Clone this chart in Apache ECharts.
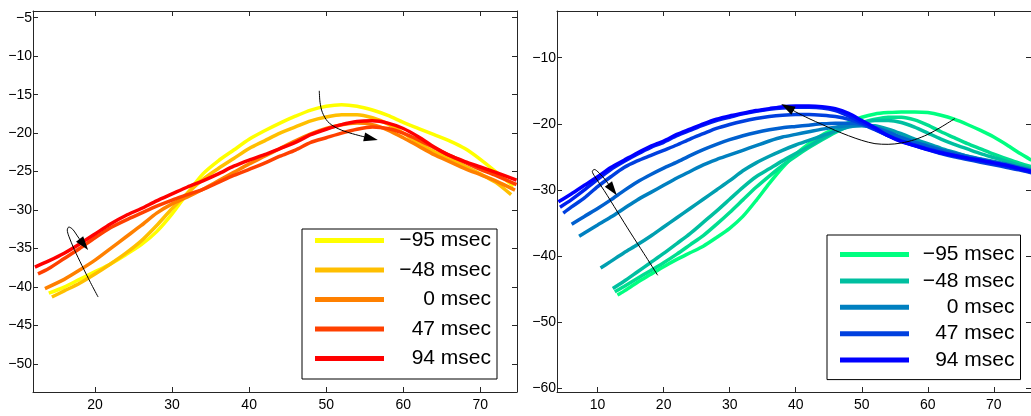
<!DOCTYPE html>
<html><head><meta charset="utf-8">
<script src="https://cdn.jsdelivr.net/npm/echarts@6/dist/echarts.min.js"></script>
<style>html,body{margin:0;padding:0;background:#fff}#c{width:1031px;height:416px}</style>
</head><body><div id="c"></div>
<script>
// ---------------- data ----------------
const legendLabels = ['\u221295 msec', '\u221248 msec', '0 msec', '47 msec', '94 msec'];
const leftColors = ['#FFFF00', '#FFBF00', '#FF8000', '#FF4000', '#FF0000'];
const rightColors = ['#00FF80', '#00DF90', '#00BFA0', '#009FB0', '#0080C0', '#0060CF', '#0040DF', '#0020EF', '#0000FF'];

const leftXTicks = [20, 30, 40, 50, 60, 70];
const leftYTicks = [-50, -45, -40, -35, -30, -25, -20, -15, -10, -5];
const rightXTicks = [10, 20, 30, 40, 50, 60, 70];
const rightYTicks = [-60, -50, -40, -30, -20, -10];

// left panel (warm colours)
const leftM95 = [[14.0,-40.8],[16,-40.0],[18,-39.0],[20,-38.0],[22,-37.0],[24,-35.8],[26,-34.5],[28,-32.8],[30,-30.5],[32,-27.8],[34,-25.3],[36,-23.6],[38,-22.2],[40,-20.8],[42,-19.7],[44,-18.7],[46,-17.8],[48,-17.0],[50,-16.5],[52,-16.3],[54,-16.5],[56,-17.0],[58,-17.7],[60,-18.6],[62,-19.4],[64,-20.2],[66,-21.0],[68,-22.0],[70,-23.4],[72,-25.0],[74.3,-26.9]];
const leftM48 = [[14.4,-41.3],[16,-40.5],[18,-39.5],[20,-38.3],[22,-37.0],[24,-35.6],[26,-34.0],[28,-32.0],[30,-29.8],[32,-27.8],[34,-26.0],[36,-24.6],[38,-23.3],[40,-22.0],[42,-21.0],[44,-20.0],[46,-19.2],[48,-18.4],[50,-17.9],[52,-17.6],[54,-17.6],[56,-18.0],[58,-18.8],[60,-20.0],[62,-21.3],[64,-22.4],[66,-23.3],[68,-24.3],[70,-25.3],[72,-26.4],[74,-28.0]];
const left0 = [[13.5,-40.2],[16,-39.0],[18,-37.8],[20,-36.5],[22,-35.0],[24,-33.5],[26,-32.0],[28,-30.4],[30,-29.2],[32,-28.3],[34,-27.3],[36,-26.2],[38,-25.1],[40,-24.0],[42,-23.0],[44,-22.0],[46,-21.0],[48,-20.1],[50,-19.4],[52,-18.9],[54,-18.7],[56,-18.9],[58,-19.6],[60,-20.6],[62,-21.7],[64,-22.8],[66,-23.7],[68,-24.6],[70,-25.4],[72,-26.2],[74.5,-27.4]];
const left47 = [[12.6,-38.3],[14,-37.6],[16,-36.3],[18,-35.0],[20,-33.6],[22,-32.3],[24,-31.3],[26,-30.4],[28,-29.5],[30,-28.7],[32,-28.0],[34,-27.3],[36,-26.4],[38,-25.5],[40,-24.7],[42,-23.9],[44,-23.0],[46,-22.2],[48,-21.2],[50,-20.6],[52,-20.0],[54,-19.5],[56,-19.2],[58,-19.4],[60,-20.0],[62,-20.9],[64,-21.9],[66,-22.9],[68,-23.8],[70,-24.7],[72,-25.5],[74.7,-26.7]];
const left94 = [[12.2,-37.4],[14,-36.6],[16,-35.6],[18,-34.4],[20,-33.1],[22,-31.8],[24,-30.7],[26,-29.8],[28,-28.8],[30,-27.9],[32,-27.0],[34,-26.2],[36,-25.3],[38,-24.3],[40,-23.5],[42,-22.8],[44,-22.0],[46,-21.2],[48,-20.2],[50,-19.5],[52,-18.9],[54,-18.5],[56,-18.4],[58,-18.7],[60,-19.4],[62,-20.5],[64,-21.8],[66,-22.9],[68,-23.7],[70,-24.4],[72,-25.1],[74.7,-26.1]];

// right panel (cool colours)
const rightM95 = [[13.0,-45.9],[14,-45.3],[16,-44.0],[18,-42.8],[20,-41.6],[22,-40.5],[24,-39.5],[26,-38.5],[28,-37.2],[30,-35.8],[32,-34.0],[34,-31.6],[36,-29.0],[38,-26.6],[40,-24.6],[42,-23.0],[44,-21.7],[46,-20.7],[48,-19.8],[50,-19.0],[52,-18.5],[54,-18.3],[56,-18.2],[58,-18.2],[60,-18.3],[62,-18.7],[64,-19.3],[66,-20.1],[68,-21.0],[70,-22.0],[72,-23.2],[74,-24.5],[75.7,-25.5]];
const rightM71 = [[12.6,-45.4],[14,-44.6],[16,-43.4],[18,-42.2],[20,-41.0],[22,-39.7],[24,-38.3],[26,-36.9],[28,-35.2],[30,-33.4],[32,-31.5],[34,-29.6],[36,-27.9],[38,-26.3],[40,-24.9],[42,-23.6],[44,-22.4],[46,-21.3],[48,-20.4],[50,-19.8],[52,-19.3],[54,-19.0],[56,-19.0],[58,-19.4],[60,-20.2],[62,-21.2],[64,-22.1],[66,-23.0],[68,-23.8],[70,-24.6],[72,-25.3],[74,-26.0],[75.7,-26.5]];
const rightM48 = [[12.3,-44.9],[14,-43.8],[16,-42.4],[18,-41.0],[20,-39.6],[22,-38.1],[24,-36.6],[26,-34.9],[28,-33.2],[30,-31.4],[32,-29.6],[34,-28.0],[36,-26.8],[38,-25.6],[40,-24.5],[42,-23.4],[44,-22.2],[46,-21.1],[48,-20.3],[50,-19.8],[52,-19.5],[54,-19.5],[56,-19.8],[58,-20.5],[60,-21.4],[62,-22.3],[64,-23.1],[66,-23.8],[68,-24.5],[70,-25.1],[72,-25.7],[74,-26.3],[75.7,-26.8]];
const rightM24 = [[10.45,-41.8],[12,-40.8],[14,-39.5],[16,-38.3],[18,-37.0],[20,-35.6],[22,-34.2],[24,-32.8],[26,-31.4],[28,-30.0],[30,-28.6],[32,-27.1],[34,-25.9],[36,-24.9],[38,-24.0],[40,-23.2],[42,-22.5],[44,-21.8],[46,-21.1],[48,-20.5],[50,-20.2],[52,-20.3],[54,-20.8],[56,-21.5],[58,-22.3],[60,-23.0],[62,-23.7],[64,-24.3],[66,-24.9],[68,-25.4],[70,-25.9],[72,-26.3],[74,-26.8],[75.7,-27.2]];
const right0 = [[7.2,-37.0],[8,-36.5],[10,-35.3],[12,-34.1],[14,-32.8],[16,-31.5],[18,-30.4],[20,-29.3],[22,-28.2],[24,-27.2],[26,-26.2],[28,-25.4],[30,-24.7],[32,-24.0],[34,-23.3],[36,-22.6],[38,-22.0],[40,-21.6],[42,-21.2],[44,-20.8],[46,-20.5],[48,-20.3],[50,-20.3],[52,-20.6],[54,-21.2],[56,-22.0],[58,-22.7],[60,-23.3],[62,-23.9],[64,-24.4],[66,-24.9],[68,-25.3],[70,-25.7],[72,-26.1],[74,-26.6],[75.7,-27.0]];
const right24 = [[6.07,-35.2],[8,-34.0],[10,-32.8],[12,-31.5],[14,-30.1],[16,-28.8],[18,-27.7],[20,-26.7],[22,-25.8],[24,-24.8],[26,-23.9],[28,-23.1],[30,-22.4],[32,-21.8],[34,-21.3],[36,-20.9],[38,-20.6],[40,-20.4],[42,-20.2],[44,-20.0],[46,-19.9],[48,-19.9],[50,-20.1],[52,-20.6],[54,-21.3],[56,-22.1],[58,-22.8],[60,-23.4],[62,-24.0],[64,-24.5],[66,-25.0],[68,-25.4],[70,-25.8],[72,-26.2],[74,-26.7],[75.7,-27.1]];
const right47 = [[4.8,-33.5],[6,-32.6],[8,-31.2],[10,-29.5],[12,-28.0],[14,-26.6],[16,-25.6],[18,-24.8],[20,-24.0],[22,-23.2],[24,-22.3],[26,-21.5],[28,-20.7],[30,-20.1],[32,-19.6],[34,-19.2],[36,-18.9],[38,-18.7],[40,-18.6],[42,-18.6],[44,-18.7],[46,-18.9],[48,-19.3],[50,-20.0],[52,-20.9],[54,-21.8],[56,-22.6],[58,-23.3],[60,-23.9],[62,-24.5],[64,-25.0],[66,-25.4],[68,-25.8],[70,-26.2],[72,-26.6],[74,-27.0],[75.7,-27.4]];
const right71 = [[4.3,-32.6],[6,-31.5],[8,-30.0],[10,-28.4],[12,-26.9],[14,-25.7],[16,-24.6],[18,-23.6],[20,-22.8],[22,-21.8],[24,-21.0],[26,-20.2],[28,-19.5],[30,-19.0],[32,-18.5],[34,-18.1],[36,-17.8],[38,-17.6],[40,-17.5],[42,-17.5],[44,-17.6],[46,-18.0],[48,-18.8],[50,-19.8],[52,-20.8],[54,-21.8],[56,-22.6],[58,-23.2],[60,-23.8],[62,-24.3],[64,-24.8],[66,-25.2],[68,-25.6],[70,-26.0],[72,-26.4],[74,-26.9],[75.7,-27.3]];
const right94 = [[4.06,-31.8],[6,-30.6],[8,-29.3],[10,-28.0],[12,-26.6],[14,-25.5],[16,-24.4],[18,-23.4],[20,-22.6],[22,-21.6],[24,-20.8],[26,-20.0],[28,-19.3],[30,-18.8],[32,-18.4],[34,-18.0],[36,-17.7],[38,-17.4],[40,-17.3],[42,-17.3],[44,-17.4],[46,-17.7],[48,-18.4],[50,-19.5],[52,-20.6],[54,-21.8],[56,-22.7],[58,-23.3],[60,-23.9],[62,-24.4],[64,-24.8],[66,-25.2],[68,-25.5],[70,-25.9],[72,-26.3],[74,-26.8],[75.7,-27.2]];

// annotation arrows (data coordinates): body path, and head [from x, from y, tip x, tip y]
const leftLoopArrow = [[20.4,-41.3],[19.4,-39.4],[18.3,-37.2],[17.3,-35.1],[16.6,-33.4],[16.4,-32.6],[16.6,-32.2],[17.1,-32.5],[17.8,-33.5],[18.3,-34.2]];
const leftLoopHead = [17.8,-33.5,19.1,-35.2];
const leftTopArrow = [[49.1,-14.5],[49.2,-16.0],[49.5,-17.3],[50.2,-18.5],[51.3,-19.3],[52.8,-19.9],[55.0,-20.5]];
const leftTopHead = [54.5,-20.4,56.7,-20.9];
const rightLoopArrow = [[19.1,-42.9],[17.0,-39.6],[15.0,-36.5],[13.0,-33.3],[11.0,-30.1],[9.6,-28.0],[9.2,-27.2],[9.5,-26.9],[10.2,-27.4],[11.2,-28.5],[11.9,-29.5]];
const rightLoopHead = [11.2,-28.5,12.9,-30.8];
const rightTopArrow = [[64.1,-19.2],[62,-20.5],[60,-21.6],[58,-22.4],[56,-22.9],[54,-23.1],[52,-23.0],[50,-22.5],[48,-21.8],[46,-21.0],[44,-20.1],[42,-19.2],[40,-18.2],[39.2,-17.7]];
const rightTopHead = [40,-18.2,37.8,-17.0];

// ---------------- chart ----------------
const FONT = '"Liberation Sans", Arial, Helvetica, sans-serif';
const AX = '#262626';
const fmt = v => String(v).replace('-', '\u2212');

function xAxis(grid, min, max, ticks, pos, labels) {
  return { type: 'value', gridIndex: grid, position: pos, min, max,
    axisLine: { show: true, onZero: false, lineStyle: { color: AX, width: 1 } },
    axisTick: { show: true, inside: true, length: 5, customValues: ticks, lineStyle: { color: AX } },
    axisLabel: { show: labels, customValues: ticks, formatter: fmt, color: '#000', fontSize: 14, fontFamily: FONT, margin: 6 },
    splitLine: { show: false } };
}
function yAxis(grid, min, max, ticks, pos, labels) {
  return { type: 'value', gridIndex: grid, position: pos, min, max,
    axisLine: { show: true, onZero: false, lineStyle: { color: AX, width: 1 } },
    axisTick: { show: true, inside: true, length: 5, customValues: ticks, lineStyle: { color: AX } },
    axisLabel: { show: labels, customValues: ticks, formatter: fmt, color: '#000', fontSize: 14, fontFamily: FONT, margin: 1 },
    splitLine: { show: false } };
}

const LX = [11.95, 74.76], LY = [-53.64, -4.13];
const RX = [3.85, 75.63], RY = [-60.55, -2.94];

function curve(name, data, color, ai) {
  return { type: 'line', name, data, xAxisIndex: ai, yAxisIndex: ai, symbol: 'none', showSymbol: false,
    smooth: 0.25, color, itemStyle: { color }, lineStyle: { color, width: 3.5 }, emphasis: { disabled: true }, z: 2 };
}
function arrowBody(data, ai) {
  return { type: 'line', data, xAxisIndex: ai, yAxisIndex: ai, symbol: 'none', showSymbol: false, smooth: 0.3,
    lineStyle: { color: '#000', width: 1 }, itemStyle: { color: '#000' }, emphasis: { disabled: true }, z: 5 };
}
function arrowHead(seg, ai) {
  return { type: 'custom', coordinateSystem: 'cartesian2d', xAxisIndex: ai, yAxisIndex: ai,
    data: [seg], encode: { x: [0, 2], y: [1, 3] }, z: 6, silent: true,
    renderItem: (params, api) => {
      const a = api.coord([api.value(0), api.value(1)]);
      const b = api.coord([api.value(2), api.value(3)]);
      let dx = b[0] - a[0], dy = b[1] - a[1];
      const len = Math.hypot(dx, dy) || 1; dx /= len; dy /= len;
      const L = 14, W = 9;
      const bx = b[0] - dx * L, by = b[1] - dy * L;
      return { type: 'polygon', shape: { points: [[b[0], b[1]], [bx - dy * W / 2, by + dx * W / 2], [bx + dy * W / 2, by - dx * W / 2]] },
        style: { fill: '#000', stroke: null } };
    } };
}

const leftData = [leftM95, leftM48, left0, left47, left94];
const rightData = [rightM95, rightM71, rightM48, rightM24, right0, right24, right47, right71, right94];
const leftNames = legendLabels.map(l => 'L ' + l);
const rightNamesAll = ['\u221295', '\u221271', '\u221248', '\u221224', '0', '24', '47', '71', '94'].map(t => 'R ' + t);
const rightLegendNames = [rightNamesAll[0], rightNamesAll[2], rightNamesAll[4], rightNamesAll[6], rightNamesAll[8]];
const nameToLabel = {};
leftNames.forEach((n, i) => nameToLabel[n] = legendLabels[i]);
rightLegendNames.forEach((n, i) => nameToLabel[n] = legendLabels[i]);

const series = [];
leftData.forEach((d, i) => series.push(curve(leftNames[i], d, leftColors[i], 0)));
rightData.forEach((d, i) => series.push(curve(rightNamesAll[i], d, rightColors[i], 2)));
series.push(arrowBody(leftLoopArrow, 0), arrowHead(leftLoopHead, 0));
series.push(arrowBody(leftTopArrow, 0), arrowHead(leftTopHead, 0));
series.push(arrowBody(rightLoopArrow, 2), arrowHead(rightLoopHead, 2));
series.push(arrowBody(rightTopArrow, 2), arrowHead(rightTopHead, 2));

function legend(names, left, top, pad, textW, gap) {
  return { data: names, orient: 'vertical', left, top, padding: pad, itemGap: gap,
    itemWidth: 69, itemHeight: 5, icon: 'rect', selectedMode: false,
    backgroundColor: '#fff', borderColor: '#000', borderWidth: 1, borderRadius: 0,
    itemStyle: { borderWidth: 0 },
    formatter: n => '{t|' + nameToLabel[n] + '}',
    textStyle: { rich: { t: { width: textW, align: 'right', fontSize: 21, lineHeight: 20, fontFamily: FONT, color: '#000' } } } };
}

const option = {
  animation: false,
  backgroundColor: '#fff',
  grid: [
    { left: 33, top: 11, width: 484, height: 381 },
    { left: 557, top: 11, width: 475, height: 381 }
  ],
  xAxis: [
    xAxis(0, LX[0], LX[1], leftXTicks, 'bottom', true),
    xAxis(0, LX[0], LX[1], leftXTicks, 'top', false),
    xAxis(1, RX[0], RX[1], rightXTicks, 'bottom', true),
    xAxis(1, RX[0], RX[1], rightXTicks, 'top', false)
  ],
  yAxis: [
    yAxis(0, LY[0], LY[1], leftYTicks, 'left', true),
    yAxis(0, LY[0], LY[1], leftYTicks, 'right', false),
    yAxis(1, RY[0], RY[1], rightYTicks, 'left', true),
    yAxis(1, RY[0], RY[1], rightYTicks, 'right', false)
  ],
  legend: [
    legend(leftNames, 302, 229, [1, 6, 10, 13], 102, 8.5),
    legend(rightLegendNames, 827, 235, [9, 6, 9, 13], 100.5, 5.4)
  ],
  series
};
const chart = echarts.init(document.getElementById('c'), null, { renderer: 'canvas' });
chart.setOption(option);
</script></body></html>
